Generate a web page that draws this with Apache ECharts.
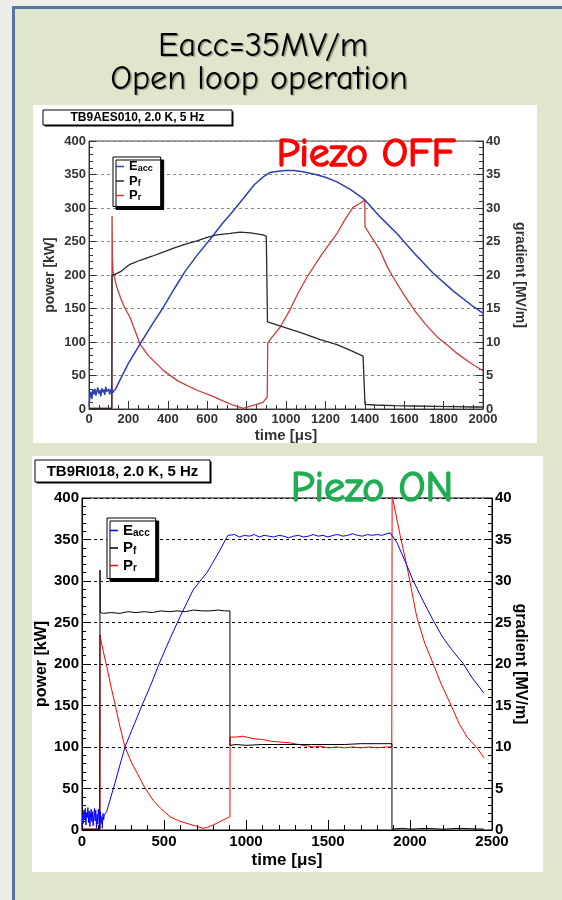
<!DOCTYPE html>
<html>
<head>
<meta charset="utf-8">
<script src="https://cdn.jsdelivr.net/npm/echarts@6/dist/echarts.min.js"></script>
<style>
  html, body { margin: 0; padding: 0; background: #eeeee8; }
  #chart { width: 562px; height: 900px; }
</style>
</head>
<body>
<div id="chart"></div>
<script>
// ---------- Piezo OFF run (TB9AES010) ----------
var offEaccT = [0,5,10,15,20,25,30,35,40,45,50,55,60,65,70,75,80,85,90,95,100,105,110,115,120,125,
  135,157,200,259,320,380,430,487,550,614,680,716,780,840,883,919,960,1000,1040,1086,1150,1200,1259,
  1330,1401,1480,1563,1650,1746,1850,1950,2000];
var offEaccV = [0.5,1.8,2.6,1.5,2.9,2.2,3.0,2.0,2.7,3.2,2.3,2.8,1.9,3.1,2.5,2.9,2.1,3.3,2.6,2.4,3.0,2.2,2.8,3.1,2.4,2.7,
  3.0,4.3,6.8,9.7,12.6,15.3,17.8,20.5,23.0,25.3,27.8,29.0,31.3,33.5,34.6,35.3,35.5,35.6,35.6,35.4,35.0,34.6,33.9,
  32.7,31.2,28.6,26.2,23.3,20.3,17.6,15.3,14.3];

var offPfT = [0,60,116,117,117,132,160,208,260,320,376,430,490,548,600,650,716,767,820,860,883,900,905,906,919,
  1000,1086,1170,1259,1330,1391,1400,1401,1450,1550,1650,1750,1850,1950,2000];
var offPfV = [1,1,1,1,200,201,205,216,222,228,234,240,246,251,256,260,262,264,263,261,260,258,257,130,129,
  121,113,104,96,87,79,78,7,6,5,4.5,4,3.5,3,3];

var offPrT = [0,60,116,117,117,119,122,140,160,180,208,259,300,376,450,548,620,680,730,782,830,883,905,907,920,
  945,970,1020,1060,1107,1180,1259,1300,1340,1370,1400,1401,1440,1477,1511,1543,1600,1655,1710,1766,1820,1868,1940,2000];
var offPrV = [1,1,1,1,288,225,205,183,166,152,137,97,80,58,42,28,20,12,6,1,5,10,18,98,104,
  113,122,148,172,197,230,262,283,301,306,312,272,254,237,214,197,170,146,126,108,95,83,68,57];

// ---------- Piezo ON run (TB9RI018) ----------
var onEaccT = [0,4,8,12,16,20,24,28,32,36,40,44,48,52,56,60,64,68,72,76,80,84,88,92,96,100,104,108,112,116,120,124,128,132,136,140,
  150,200,262,320,372,420,476,540,598,640,677,720,762,800,841,870,890,
  930,960,990,1020,1050,1080,1110,1140,1170,1200,1230,1260,1290,1320,1350,1380,1410,1440,1470,1500,1530,1560,1590,
  1620,1650,1680,1710,1740,1770,1800,1830,1860,1880,1890,
  1896,1921,1970,2018,2080,2140,2200,2260,2305,2323,2380,2420,2450];
var onEaccV = [0.3,1.9,0.8,2.4,1.2,2.6,0.6,2.1,1.5,2.7,0.9,2.3,0.4,1.8,2.5,1.0,2.2,0.5,1.7,2.6,1.1,2.4,0.2,1.9,0.7,2.5,1.3,0.1,2.2,0.8,1.6,0.2,2.0,1.2,1.8,1.6,
  2.2,5.6,10.0,12.8,15.3,17.5,20.3,23.2,25.7,27.4,28.9,30.0,31.0,32.3,33.7,34.8,35.5,
  35.6,35.3,35.5,35.4,35.6,35.3,35.5,35.4,35.3,35.5,35.4,35.2,35.4,35.5,35.3,35.4,35.6,35.4,35.5,35.3,35.5,35.6,35.4,
  35.5,35.7,35.5,35.4,35.6,35.5,35.6,35.5,35.7,35.8,35.7,
  35.3,34.6,32.4,30.1,27.6,25.3,23.2,21.6,20.5,20.1,18.3,17.3,16.5];

var onPfT = [0,108,110,110,111,130,180,230,280,330,380,430,480,530,580,630,680,730,780,830,870,902,902,940,
  1000,1100,1200,1300,1400,1500,1600,1700,1800,1890,1890,1950,2000,2100,2200,2300,2450];
var onPfV = [1,1,1,313,262,261,262,261,263,262,263,262,264,263,264,263,265,264,264,265,264,264,102,103,
  102,103,103,103,103,103,103,104,104,104,1,2,1,2,1,2,1];

var onPrT = [0,110,110,112,130,152,180,200,232,262,300,335,380,433,480,537,590,640,690,738,760,800,841,880,902,903,
  940,980,1045,1100,1150,1207,1268,1320,1409,1450,1500,1550,1600,1650,1700,1750,1800,1850,1889,1890,1891,
  1896,1940,1982,2041,2090,2140,2190,2244,2300,2348,2409,2451];
var onPrV = [1,1,235,232,215,196,170,153,124,100,82,69,52,36,26,16,11,8,5,2,3,6,10,14,16,112,
  112,113,110,109,107,106,105,103,100,101,99,100,99,100,99,100,99,100,100,100,405,
  398,355,317,257,225,201,176,153,128,112,99,87];

// tick / axis settings
var offTimeTicks = { min: 0, max: 2000, interval: 200 };
var onTimeTicks = { min: 0, max: 2500, interval: 500 };
var powerTicks = { min: 0, max: 400, interval: 50 };
var gradientTicks = { min: 0, max: 40, interval: 5 };

function pairs(t, v) {
  var out = [];
  for (var i = 0; i < t.length; i++) out.push([t[i], v[i]]);
  return out;
}

var FONT = "'Liberation Sans', Arial, sans-serif";
var HAND = "'Comic Sans MS', 'Comic Neue', 'DejaVu Sans', sans-serif";
function plain(v) { return String(v); }

function xAxisDef(grid, ticks, col, fs, gap, majorLen, minorSplit) {
  return {
    gridIndex: grid, type: 'value', min: ticks.min, max: ticks.max, interval: ticks.interval,
    axisLine: { show: true, lineStyle: { color: col, width: 1 } },
    axisTick: { show: true, inside: true, length: majorLen, lineStyle: { color: col } },
    minorTick: { show: true, splitNumber: minorSplit, length: majorLen / 2, lineStyle: { color: col } },
    splitLine: { show: false },
    axisLabel: { fontFamily: FONT, fontWeight: 'bold', fontSize: fs, color: col, margin: 4, showMaxLabel: true, showMinLabel: true, formatter: plain },
    name: 'time [\u03bcs]', nameLocation: 'middle', nameGap: gap, nameMoveOverlap: false,
    nameTextStyle: { fontFamily: FONT, fontWeight: 'bold', fontSize: fs + 2, color: col }
  };
}

function powerAxisDef(grid, col, fs, gap, dashCol) {
  return {
    gridIndex: grid, type: 'value', position: 'left',
    min: powerTicks.min, max: powerTicks.max, interval: powerTicks.interval,
    axisLine: { show: true, lineStyle: { color: col, width: 1 } },
    axisTick: { show: true, inside: true, length: 7, lineStyle: { color: col } },
    minorTick: { show: true, splitNumber: 5, length: 4, lineStyle: { color: col } },
    splitLine: { show: true, lineStyle: { color: dashCol, type: [3, 3], width: 1 } },
    axisLabel: { fontFamily: FONT, fontWeight: 'bold', fontSize: fs, color: col, margin: 3, formatter: plain },
    name: 'power [kW]', nameLocation: 'middle', nameRotate: 90, nameGap: gap, nameMoveOverlap: false,
    nameTextStyle: { fontFamily: FONT, fontWeight: 'bold', fontSize: fs + 1, color: col }
  };
}

function gradientAxisDef(grid, col, fs, gap) {
  return {
    gridIndex: grid, type: 'value', position: 'right',
    min: gradientTicks.min, max: gradientTicks.max, interval: gradientTicks.interval,
    axisLine: { show: true, lineStyle: { color: col, width: 1 } },
    axisTick: { show: true, inside: true, length: 7, lineStyle: { color: col } },
    minorTick: { show: true, splitNumber: 5, length: 4, lineStyle: { color: col } },
    splitLine: { show: false },
    axisLabel: { fontFamily: FONT, fontWeight: 'bold', fontSize: fs, color: col, margin: 3, formatter: plain },
    name: 'gradient [MV/m]', nameLocation: 'middle', nameRotate: -90, nameGap: gap, nameMoveOverlap: false,
    nameTextStyle: { fontFamily: FONT, fontWeight: 'bold', fontSize: fs + 1, color: col }
  };
}

function lineSeries(name, x, y, data, color, w) {
  return {
    name: name, type: 'line', xAxisIndex: x, yAxisIndex: y, data: data,
    showSymbol: false, symbol: 'none', clip: true, animation: false,
    lineStyle: { color: color, width: w }, itemStyle: { color: color }
  };
}

var legendText = {
  offEacc: '{m|E}{s|acc}', offPf: '{m|P}{s|f}', offPr: '{m|P}{s|r}',
  onEacc: '{m|E}{s|acc}', onPf: '{m|P}{s|f}', onPr: '{m|P}{s|r}'
};

function legendDef(names, left, top, fs, gap, pad) {
  return {
    data: names, orient: 'vertical', left: left, top: top, selectedMode: false,
    icon: 'rect', itemWidth: 8, itemHeight: 1.5, itemGap: gap, padding: pad,
    backgroundColor: '#fff', borderColor: '#000', borderWidth: 1,
    shadowColor: '#000', shadowBlur: 0, shadowOffsetX: 3, shadowOffsetY: 3,
    formatter: function (n) { return legendText[n]; },
    textStyle: {
      fontFamily: FONT, fontWeight: 'bold', color: '#000',
      rich: {
        m: { fontFamily: FONT, fontWeight: 'bold', fontSize: fs, lineHeight: fs + 1, color: '#000' },
        s: { fontFamily: FONT, fontWeight: 'bold', fontSize: Math.round(fs * 0.66), lineHeight: fs + 1, verticalAlign: 'bottom', color: '#000' }
      }
    }
  };
}

function textBox(x, y, w, h, text, fs) {
  return {
    type: 'group', z: 50, children: [
      { type: 'rect', shape: { x: x + 1.5, y: y + 1.5, width: w, height: h }, style: { fill: '#000' } },
      { type: 'rect', shape: { x: x, y: y, width: w, height: h }, style: { fill: '#fff', stroke: '#000', lineWidth: 1 } },
      { type: 'text', x: x + w / 2, y: y + h / 2 + 0.5, style: { text: text, font: 'bold ' + fs + 'px ' + FONT, fill: '#000', align: 'center', verticalAlign: 'middle' } }
    ]
  };
}

function handText(x, y, text, size, color, bold) {
  var st = { text: text, font: size + 'px ' + HAND, fill: color, align: 'center', verticalAlign: 'middle' };
  if (bold) { st.stroke = color; st.lineWidth = 1.6; }
  else { st.textShadowColor = 'rgba(0,0,0,0.35)'; st.textShadowOffsetX = 1.5; st.textShadowOffsetY = 1.5; st.textShadowBlur = 1; }
  return { type: 'text', z: 60, x: x, y: y, style: st };
}

var chart = echarts.init(document.getElementById('chart'), null, { renderer: 'canvas', width: 562, height: 900 });

chart.setOption({
  animation: false,
  backgroundColor: '#eeeee8',
  grid: [
    { left: 89, top: 141, width: 394, height: 268, show: true, backgroundColor: '#fff', borderColor: '#444', borderWidth: 1 },
    { left: 82, top: 498, width: 410, height: 332, show: true, backgroundColor: '#fff', borderColor: '#000', borderWidth: 1 }
  ],
  xAxis: [
    xAxisDef(0, offTimeTicks, '#333', 13, 19, 8, 4),
    xAxisDef(1, onTimeTicks, '#000', 15, 22, 10, 5)
  ],
  yAxis: [
    powerAxisDef(0, '#333', 13, 32, '#888'),
    gradientAxisDef(0, '#333', 13, 30),
    powerAxisDef(1, '#000', 15, 32, '#000'),
    gradientAxisDef(1, '#000', 15, 20)
  ],
  legend: [
    legendDef(['offEacc', 'offPf', 'offPr'], 113, 157, 13, 1, [3, 8, 4, 3]),
    legendDef(['onEacc', 'onPf', 'onPr'], 107, 518, 15, 2, [5, 6, 5, 3])
  ],
  graphic: [
    { type: 'rect', z: -20, shape: { x: 0, y: 0, width: 562, height: 900 }, style: { fill: '#eeeee8' } },
    { type: 'rect', z: -19, shape: { x: 13.5, y: 7.5, width: 620, height: 960 }, style: { fill: '#dfe6cc', stroke: '#55749f', lineWidth: 3 } },
    { type: 'rect', z: -18, shape: { x: 33, y: 105, width: 504, height: 338 }, style: { fill: '#fff' } },
    { type: 'rect', z: -18, shape: { x: 32, y: 456, width: 511, height: 416 }, style: { fill: '#fff' } },
    handText(263, 46, 'Eacc=35MV/m', 34, '#000', false),
    handText(259, 79, 'Open loop operation', 34, '#000', false),
    handText(366, 154, 'Piezo OFF', 41, '#ff0000', true),
    handText(372, 489, 'Piezo ON', 42, '#1fae52', true),
    textBox(43, 110, 189, 15, 'TB9AES010, 2.0 K, 5 Hz', 12),
    textBox(35, 460, 175, 22, 'TB9RI018, 2.0 K, 5 Hz', 15)
  ],
  series: [
    lineSeries('offPr', 0, 0, pairs(offPrT, offPrV), '#cc3b3b', 1.3),
    lineSeries('offPf', 0, 0, pairs(offPfT, offPfV), '#2a2a2a', 1.3),
    lineSeries('offEacc', 0, 1, pairs(offEaccT, offEaccV), '#2f3fb5', 1.5),
    lineSeries('onPr', 1, 2, pairs(onPrT, onPrV), '#ff0000', 1),
    lineSeries('onPf', 1, 2, pairs(onPfT, onPfV), '#000000', 1),
    lineSeries('onEacc', 1, 3, pairs(onEaccT, onEaccV), '#0000ff', 1)
  ]
});
</script>
</body>
</html>
